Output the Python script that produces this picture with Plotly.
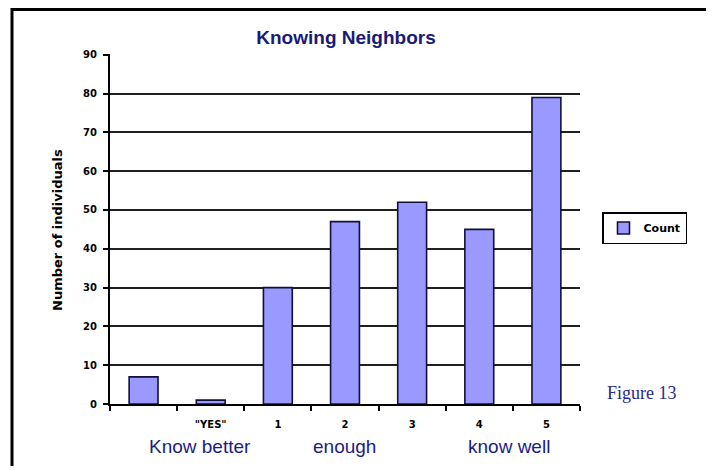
import plotly.graph_objects as go

categories = ["", "\"YES\"", "1", "2", "3", "4", "5"]
counts = [7, 1, 30, 47, 52, 45, 79]
y_ticks = [0, 10, 20, 30, 40, 50, 60, 70, 80, 90]
group_labels = ["Know better", "enough", "know well"]
group_label_x = [200, 344, 509]

# page body has an 8px margin; figure is laid out in window pixel coordinates minus 8
OFF = 8
W, H = 714 - OFF, 474 - 2 * OFF
L = 110 - OFF
R = W - (580 - OFF)
T = 54 - OFF
B = H - (404 - OFF)
pw, ph = W - L - R, H - T - B

def px_x(x):
    return (x - OFF - L) / pw

def px_y(y):
    return (H - B - (y - OFF)) / ph

fig = go.Figure()
fig.add_trace(go.Bar(
    x=categories, y=counts, name="Count", width=0.43,
    marker=dict(color="#9999FF", line=dict(color="#10103a", width=1.6)),
))

navy = "#1c1c80"
annotations = [
    dict(text="Number of individuals", x=px_x(57), y=px_y(230), xref="paper", yref="paper",
         xanchor="center", yanchor="middle",
         textangle=-90, showarrow=False, font=dict(family="DejaVu Sans", size=13, color="black", weight="bold")),
    dict(text="Figure 13", x=px_x(642), y=px_y(393), xref="paper", yref="paper", showarrow=False,
         xanchor="center", yanchor="middle",
         font=dict(family="Liberation Serif", size=18, color="#2a2a8a")),
]
for t, xx in zip(group_labels, group_label_x):
    annotations.append(dict(text=t, x=px_x(xx), y=px_y(446), xref="paper", yref="paper", showarrow=False,
                            xanchor="center", yanchor="middle",
                            font=dict(family="Liberation Sans", size=19, color=navy)))

fig.update_layout(
    width=W, height=H, margin=dict(l=L, r=R, t=T, b=B, autoexpand=False),
    paper_bgcolor="white", plot_bgcolor="white",
    title=dict(text="Knowing Neighbors", x=(346 - OFF) / W, xanchor="center", y=1 - (37 - OFF) / H,
               yanchor="middle", xref="container", yref="container",
               font=dict(family="Liberation Sans", size=19, color="#1a1a78", weight="bold")),
    showlegend=True,
    legend=dict(x=px_x(602), xanchor="left", y=px_y(228), yanchor="middle",
                bordercolor="black", borderwidth=1.5, bgcolor="white",
                font=dict(family="DejaVu Sans", size=11, color="black", weight="bold"),
                itemwidth=30),
    xaxis=dict(type="category", showline=True, linecolor="black", linewidth=2,
               ticks="outside", ticklen=5, tickcolor="black", tickwidth=1.5, tickson="boundaries",
               ticklabelstandoff=10,
               showgrid=False, tickfont=dict(family="DejaVu Sans", size=10, color="black", weight="bold")),
    yaxis=dict(range=[0, 90.2], tickvals=y_ticks, showline=True, linecolor="black", linewidth=2,
               ticks="outside", ticklen=5, tickcolor="black", tickwidth=1.5, ticklabelstandoff=4,
               showgrid=True, gridcolor="#202020", gridwidth=2, zeroline=False,
               tickfont=dict(family="DejaVu Sans", size=10, color="black", weight="bold")),
    annotations=annotations,
    shapes=[dict(type="rect", xref="paper", yref="paper",
                 x0=px_x(12), x1=px_x(709), y0=px_y(490), y1=px_y(OFF + 1.5),
                 line=dict(color="black", width=3), fillcolor="rgba(0,0,0,0)", layer="below")],
    bargap=0.57,
)
fig.write_html("out.html")
